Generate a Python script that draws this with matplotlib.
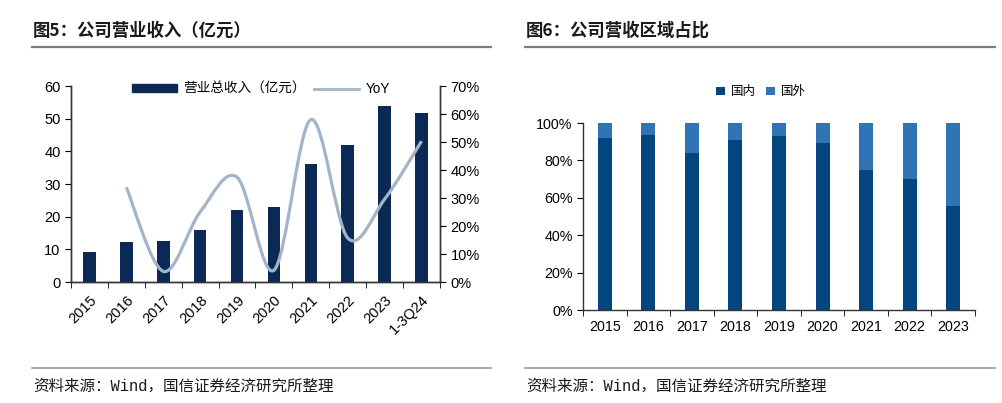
import numpy as np
import matplotlib
matplotlib.use('Agg')
import matplotlib.pyplot as plt
from matplotlib.path import Path
from matplotlib.patches import PathPatch
from matplotlib.lines import Line2D
from matplotlib.ticker import FixedLocator, PercentFormatter

plt.rcParams['font.family'] = ['Liberation Sans', 'Noto Sans CJK SC', 'DejaVu Sans']

# left chart data
periods = ['2015', '2016', '2017', '2018', '2019', '2020', '2021', '2022', '2023', '1-3Q24']
revenue = [9.1, 12.3, 12.7, 16.0, 21.9, 22.9, 36.1, 41.8, 54.0, 51.8]
yoy = [None, 33.8, 3.8, 25.0, 37.4, 4.2, 58.0, 15.7, 29.6, 50.3]

# right chart data
years = ['2015', '2016', '2017', '2018', '2019', '2020', '2021', '2022', '2023']
domestic = [91.8, 93.6, 84.0, 90.7, 92.9, 89.5, 75.1, 69.9, 55.7]
overseas = [100 - d for d in domestic]

NAVY = '#0A2A55'
LINE = '#A3B4C8'
DARK = '#03457C'
LIGHT = '#2F74B5'
W, H = 1003, 403

fig = plt.figure(figsize=(W / 100, H / 100), dpi=100)


def px_axes(x0, y0, x1, y1):
    return fig.add_axes([x0 / W, 1 - y1 / H, (x1 - x0) / W, (y1 - y0) / H])


def smooth_path(xs, ys):
    # bezier segments through the points (spreadsheet-style smoothed line)
    pts = np.column_stack([xs, ys])
    n = len(pts)
    verts = [pts[0]]
    codes = [Path.MOVETO]
    for i in range(n - 1):
        p0 = pts[i - 1] if i > 0 else pts[i]
        p1, p2 = pts[i], pts[i + 1]
        p3 = pts[i + 2] if i + 2 < n else pts[i + 1]
        verts += [p1 + (p2 - p0) / 6, p2 - (p3 - p1) / 6, p2]
        codes += [Path.CURVE4] * 3
    return Path(verts, codes)


def frame(x0, x1, y_title, y_foot, title):
    fig.add_artist(Line2D([x0 / W, x1 / W], [1 - 47 / H] * 2, color='#7f7f7f', lw=1.6))
    fig.add_artist(Line2D([x0 / W, x1 / W], [1 - y_foot / H] * 2, color='#9a9a9a', lw=1.2))
    fig.text((x0 + 1) / W, 1 - y_title / H, title, fontsize=12.5, fontweight='bold',
             va='center', color='#1a1a1a', family=['Noto Sans CJK SC'])
    fig.text((x0 + 1) / W, 1 - 386 / H, '资料来源：Wind，国信证券经济研究所整理', fontsize=11.2,
             va='center', color='#1a1a1a', family=['Liberation Mono', 'Noto Sans CJK SC'])


frame(32, 491, 31, 368, '图5：公司营业收入（亿元）')
frame(525, 995, 31, 368, '图6：公司营收区域占比')

# ---- left chart ----
ax = px_axes(71, 86, 440, 282)
x = np.arange(len(periods))
ax.bar(x, revenue, width=0.34, color=NAVY, label='营业总收入（亿元）', zorder=2)
ax.set_xlim(-0.5, len(periods) - 0.5)
ax.set_ylim(0, 60)
ax.set_yticks(range(0, 61, 10))
ax.set_xticks(x)
ax.set_xticklabels(periods, rotation=45, ha='right', va='top', rotation_mode='anchor', fontsize=10.5)
ax.xaxis.set_minor_locator(FixedLocator(np.arange(-0.5, len(periods), 1)))
ax.tick_params(axis='x', which='major', length=0, pad=8)
ax.tick_params(axis='x', which='minor', length=4, direction='out')
ax.tick_params(axis='y', length=4, labelsize=10.5)
ax.spines['top'].set_visible(False)

ax2 = ax.twinx()
ax2.set_ylim(0, 70)
ax2.set_yticks(range(0, 71, 10))
ax2.yaxis.set_major_formatter(PercentFormatter(decimals=0))
ax2.tick_params(axis='y', length=4, labelsize=10.5)
ax2.spines['top'].set_visible(False)
xs = [i for i, v in enumerate(yoy) if v is not None]
ys = [v for v in yoy if v is not None]
ax2.add_patch(PathPatch(smooth_path(xs, ys), facecolor='none', edgecolor=LINE, lw=2.3, zorder=3))
for a in (ax, ax2):
    for s in a.spines.values():
        s.set_color('#333333')
        s.set_linewidth(1)

handles = [plt.Rectangle((0, 0), 1, 1, color=NAVY), Line2D([], [], color=LINE, lw=2)]
ax.legend(handles, ['营业总收入（亿元）', 'YoY'], loc='center', bbox_to_anchor=(0.515, 0.985),
          ncol=2, frameon=False, handlelength=3.3, handleheight=0.5,
          columnspacing=0.6, handletextpad=0.5,
          prop={'family': ['Liberation Sans', 'Noto Sans CJK SC'], 'size': 9.8})

# ---- right chart ----
bx = px_axes(583, 123, 975, 310)
xr = np.arange(len(years))
bx.bar(xr, domestic, width=0.32, color=DARK, label='国内')
bx.bar(xr, overseas, width=0.32, bottom=domestic, color=LIGHT, label='国外')
bx.set_xlim(-0.5, len(years) - 0.5)
bx.set_ylim(0, 100)
bx.set_yticks(range(0, 101, 20))
bx.yaxis.set_major_formatter(PercentFormatter(decimals=0))
bx.set_xticks(xr)
bx.set_xticklabels(years, fontsize=10.3)
bx.xaxis.set_minor_locator(FixedLocator(np.arange(-0.5, len(years), 1)))
bx.tick_params(axis='x', which='major', length=0, pad=7)
bx.tick_params(axis='x', which='minor', length=4, direction='out')
bx.tick_params(axis='y', length=4, labelsize=10.3)
for s in ('top', 'right'):
    bx.spines[s].set_visible(False)
for s in ('left', 'bottom'):
    bx.spines[s].set_color('#333333')
    bx.spines[s].set_linewidth(1)
bx.legend(loc='center', bbox_to_anchor=(0.454, 1.166), ncol=2, frameon=False,
          handlelength=0.7, handleheight=0.7, handletextpad=0.5, columnspacing=0.8,
          prop={'family': ['Noto Sans CJK SC'], 'size': 9})

fig.savefig('out.png', dpi=100)
